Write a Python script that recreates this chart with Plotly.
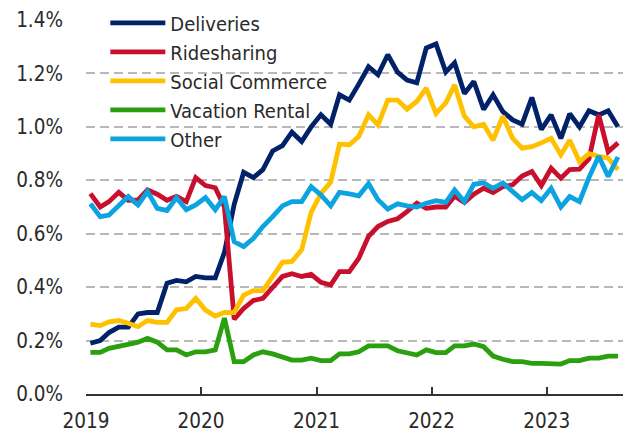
import pandas as pd
import plotly.graph_objects as go

months = pd.date_range('2019-01-01', periods=56, freq='MS') + pd.Timedelta(days=14)

deliveries = [0.19, 0.20, 0.23, 0.25, 0.25, 0.30, 0.305, 0.305, 0.415, 0.425, 0.42, 0.44,
              0.435, 0.435, 0.53, 0.71, 0.83, 0.81, 0.84, 0.91, 0.93, 0.98, 0.945, 1.0,
              1.045, 1.01, 1.12, 1.10, 1.16, 1.225, 1.195, 1.27, 1.205, 1.175, 1.165, 1.295,
              1.31, 1.205, 1.24, 1.125, 1.17, 1.065, 1.12, 1.057, 1.026, 1.01, 1.11, 0.99,
              1.045, 0.957, 1.049, 1.0, 1.06, 1.045, 1.06, 1.0]
ridesharing = [0.75, 0.70, 0.72, 0.755, 0.725, 0.727, 0.764, 0.748, 0.725, 0.74, 0.72, 0.81,
               0.78, 0.772, 0.70, 0.28, 0.32, 0.35, 0.358, 0.40, 0.44, 0.45, 0.44, 0.448,
               0.418, 0.408, 0.458, 0.458, 0.508, 0.59, 0.627, 0.646, 0.656, 0.683, 0.714, 0.695,
               0.70, 0.70, 0.74, 0.717, 0.748, 0.77, 0.754, 0.776, 0.783, 0.816, 0.833, 0.78,
               0.845, 0.808, 0.84, 0.842, 0.88, 1.045, 0.907, 0.94]
social_commerce = [0.262, 0.256, 0.27, 0.275, 0.265, 0.252, 0.275, 0.268, 0.268, 0.315, 0.32, 0.358,
                   0.314, 0.292, 0.305, 0.305, 0.37, 0.387, 0.387, 0.44, 0.493, 0.496, 0.54, 0.68,
                   0.75, 0.793, 0.935, 0.933, 0.964, 1.045, 1.007, 1.10, 1.10, 1.066, 1.095, 1.145,
                   1.05, 1.09, 1.157, 1.04, 1.0, 1.01, 0.95, 1.04, 0.957, 0.92, 0.926, 0.94,
                   0.957, 0.895, 0.95, 0.87, 0.90, 0.89, 0.883, 0.84]
vacation_rental = [0.156, 0.156, 0.171, 0.177, 0.186, 0.194, 0.208, 0.194, 0.165, 0.165, 0.146, 0.158,
                   0.158, 0.165, 0.284, 0.121, 0.121, 0.146, 0.158, 0.15, 0.14, 0.127, 0.127, 0.134,
                   0.125, 0.125, 0.15, 0.15, 0.158, 0.18, 0.18, 0.18, 0.162, 0.155, 0.146, 0.165,
                   0.155, 0.155, 0.18, 0.18, 0.187, 0.177, 0.142, 0.13, 0.121, 0.121, 0.115, 0.115,
                   0.115, 0.112, 0.125, 0.125, 0.134, 0.134, 0.142, 0.142]
other = [0.712, 0.664, 0.67, 0.708, 0.739, 0.708, 0.758, 0.695, 0.687, 0.735, 0.69, 0.708,
         0.735, 0.69, 0.739, 0.57, 0.552, 0.583, 0.627, 0.664, 0.704, 0.72, 0.72, 0.776,
         0.745, 0.704, 0.755, 0.749, 0.742, 0.787, 0.727, 0.692, 0.712, 0.704, 0.70, 0.714,
         0.724, 0.717, 0.764, 0.72, 0.785, 0.79, 0.77, 0.79, 0.758, 0.727, 0.754, 0.724,
         0.77, 0.70, 0.739, 0.72, 0.81, 0.89, 0.814, 0.887]

series = [
    ('Deliveries', deliveries, '#012169'),
    ('Ridesharing', ridesharing, '#C8102E'),
    ('Social Commerce', social_commerce, '#FFC000'),
    ('Vacation Rental', vacation_rental, '#2AA00E'),
    ('Other', other, '#0BA3E0'),
]

fig = go.Figure()
for name, vals, col in series:
    fig.add_trace(go.Scatter(x=months, y=vals, name=name, mode='lines',
                             line=dict(color=col, width=4.8)))

font = 'DejaVu Sans Condensed, sans-serif'
fig.update_layout(
    width=629, height=433,
    margin=dict(l=86, r=6, t=20, b=39, autoexpand=False),
    plot_bgcolor='white', paper_bgcolor='white',
    font=dict(family=font, size=20.5, color='#2a2a2a'),
    showlegend=True,
    legend=dict(x=0.036, y=0.992, yref='container', xanchor='left', yanchor='top',
                bgcolor='rgba(0,0,0,0)', itemwidth=55, tracegroupgap=0, font=dict(size=20)),
    xaxis=dict(type='date', range=['2019-01-01', '2023-08-31'], dtick='M12', tick0='2019-01-01',
               tickformat='%Y', showgrid=False, showline=True, linecolor='#333333', linewidth=1.5,
               ticks='inside', ticklen=7, tickwidth=1.5, tickcolor='#333333', zeroline=False,
               ticklabelstandoff=8),
    yaxis=dict(range=[0, 1.4], dtick=0.2, tickformat='.1f', ticksuffix='%', showgrid=True,
               gridcolor='#B8B8B8', griddash='9px,5px', gridwidth=1.8, zeroline=False,
               showline=False, ticks='', ticklabelstandoff=22),
)
# page body has an 8px margin by default, drop it
fig.write_html('out.html', config={'displayModeBar': False},
               post_script="document.body.style.margin='0';")
